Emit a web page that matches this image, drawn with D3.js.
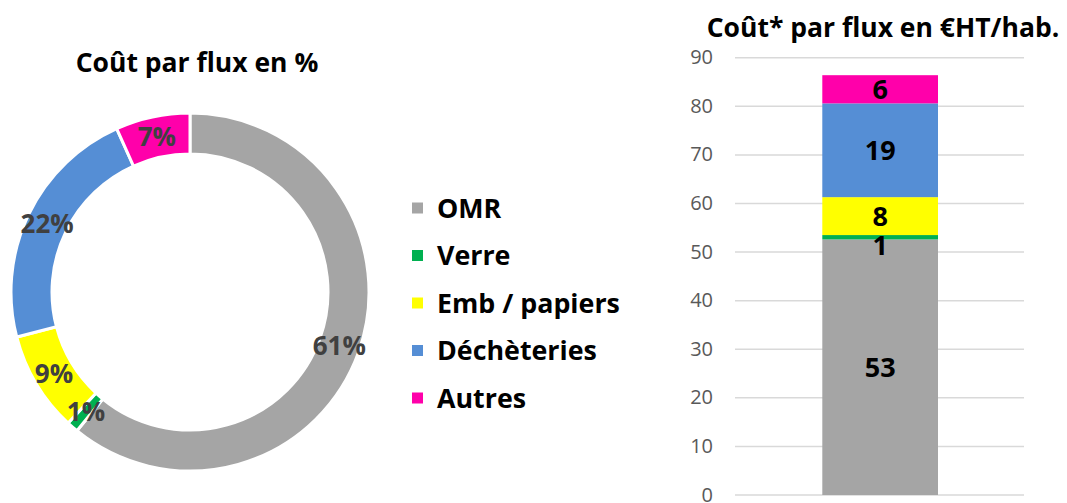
<!DOCTYPE html>
<html><head><meta charset="utf-8">
<script src="https://cdn.jsdelivr.net/npm/d3@7"></script>
<style>body{margin:0;background:#fff}svg{display:block}</style>
</head><body>
<svg id="c" width="1067" height="503"></svg>
<script>
const categories = ["OMR", "Verre", "Emb / papiers", "Déchèteries", "Autres"];
const costValues = [52.6, 0.9, 7.8, 19.3, 5.8];
const costLabels = ["53", "1", "8", "19", "6"];
const pctLabels = ["61%", "1%", "9%", "22%", "7%"];
const colors = ["#A5A5A5", "#00B050", "#FFFF00", "#558ED5", "#FF00AA"];
const yTicks = [0, 10, 20, 30, 40, 50, 60, 70, 80, 90];

const FONT = "'Open Sans', Lato, sans-serif";
const svg = d3.select("#c");

// ---- Donut ----
const cx = 190, cy = 292, rOut = 179, rIn = 138;
const pie = d3.pie().sort(null).value(d => d)(costValues);
const arc = d3.arc().innerRadius(rIn).outerRadius(rOut);
const gD = svg.append("g").attr("transform", `translate(${cx},${cy})`);
gD.selectAll("path").data(pie).join("path")
  .attr("d", arc).attr("fill", (d, i) => colors[i])
  .attr("stroke", "#fff").attr("stroke-width", 3);
gD.selectAll("text").data(pie).join("text")
  .attr("transform", d => `translate(${arc.centroid(d)})`)
  .attr("text-anchor", "middle").attr("dy", "0.36em")
  .attr("font-family", FONT).attr("font-weight", "bold").attr("font-size", 26)
  .attr("fill", "#404040").text((d, i) => pctLabels[i]);

svg.append("text").attr("x", 197).attr("y", 71.5).attr("text-anchor", "middle")
  .attr("font-family", FONT).attr("font-weight", "bold").attr("font-size", 26.5)
  .attr("fill", "#000").text("Coût par flux en %");

// ---- Legend ----
const lg = svg.append("g");
const legY = d3.scalePoint().domain(categories).range([208, 398]);
categories.forEach((c, i) => {
  lg.append("rect").attr("x", 412).attr("y", legY(c) - 5.5).attr("width", 11).attr("height", 11).attr("fill", colors[i]);
  lg.append("text").attr("x", 437).attr("y", legY(c)).attr("dy", "0.36em")
    .attr("font-family", FONT).attr("font-weight", "bold").attr("font-size", 26.8)
    .attr("fill", "#000").text(c);
});

// ---- Stacked bar ----
const y = d3.scaleLinear().domain([0, 90]).range([495, 57.7]);
svg.append("g").selectAll("line").data(yTicks).join("line")
  .attr("x1", 735).attr("x2", 1024).attr("y1", d => y(d)).attr("y2", d => y(d))
  .attr("stroke", "#D9D9D9").attr("stroke-width", 1.5);
const axis = d3.axisLeft(y).tickValues(yTicks).tickSize(0).tickPadding(0);
const ga = svg.append("g").attr("transform", "translate(713,0)").call(axis);
ga.select(".domain").remove();
ga.selectAll("text").attr("font-family", FONT).attr("font-size", 20).attr("fill", "#595959").attr("dy", "0.3em");

let acc = 0;
const stacks = costValues.map(v => { const s = { y0: acc, y1: acc + v }; acc += v; return s; });
const barX = 822.3, barW = 938 - 822.3;
const gb = svg.append("g");
stacks.forEach((s, i) => {
  gb.append("rect").attr("x", barX).attr("width", barW)
    .attr("y", y(s.y1)).attr("height", y(s.y0) - y(s.y1)).attr("fill", colors[i]);
});
stacks.forEach((s, i) => {
  let ym = (y(s.y0) + y(s.y1)) / 2;
  if (i === 1) ym += 8;
  gb.append("text").attr("x", barX + barW / 2).attr("y", ym).attr("dy", "0.36em")
    .attr("text-anchor", "middle").attr("font-family", FONT).attr("font-weight", "bold")
    .attr("font-size", 27).attr("fill", "#000").text(costLabels[i]);
});

svg.append("text").attr("x", 883).attr("y", 37).attr("text-anchor", "middle")
  .attr("font-family", FONT).attr("font-weight", "bold").attr("font-size", 26.5)
  .attr("fill", "#000").text("Coût* par flux en €HT/hab.");
</script>
</body></html>
